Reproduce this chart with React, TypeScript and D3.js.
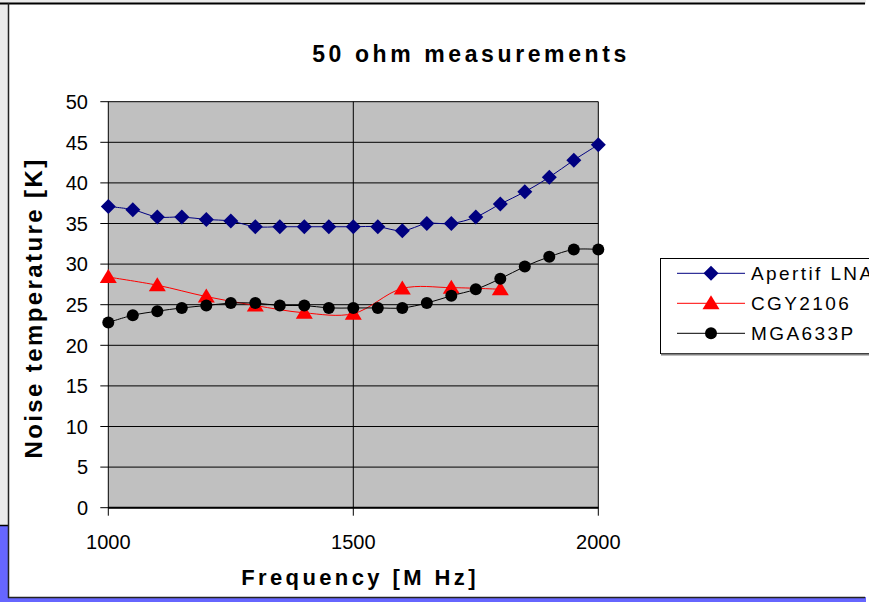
import React from "react";
import * as d3 from "d3";

// Frequency grid (MHz) for the 50 MHz step series
const freqFine = [1000, 1050, 1100, 1150, 1200, 1250, 1300, 1350, 1400, 1450, 1500, 1550, 1600, 1650, 1700, 1750, 1800, 1850, 1900, 1950, 2000];
// Frequency grid (MHz) for the 100 MHz step series
const freqCoarse = [1000, 1100, 1200, 1300, 1400, 1500, 1600, 1700, 1800];

// Noise temperature [K]
const apertifLna = [37.1, 36.7, 35.8, 35.8, 35.5, 35.3, 34.6, 34.6, 34.6, 34.6, 34.6, 34.6, 34.1, 35.0, 35.0, 35.8, 37.4, 38.9, 40.7, 42.8, 44.7];
const cgy2106 = [28.4, 27.4, 26.0, 24.9, 24.0, 23.9, 27.0, 27.1, 26.9];
const mga633p = [22.8, 23.7, 24.2, 24.6, 24.9, 25.2, 25.2, 24.9, 24.9, 24.6, 24.6, 24.6, 24.6, 25.2, 26.1, 26.9, 28.2, 29.7, 30.9, 31.8, 31.8];

const seriesNames = ["Apertif LNA", "CGY2106", "MGA633P"];
const xTicks = [1000, 1500, 2000];
const yTicks = [0, 5, 10, 15, 20, 25, 30, 35, 40, 45, 50];

const W = 869;
const H = 602;
const plot = { left: 108.3, right: 598.3, top: 101.7, bottom: 507.7 };

type Pt = [number, number];

function Marker({ kind, x, y, color }: { kind: string; x: number; y: number; color: string }) {
  if (kind === "diamond") {
    const s = 7.5;
    return <path d={`M${x},${y - s}L${x + s},${y}L${x},${y + s}L${x - s},${y}Z`} fill={color} />;
  }
  if (kind === "triangle") {
    return <path d={`M${x},${y - 8}L${x + 8.5},${y + 6}L${x - 8.5},${y + 6}Z`} fill={color} />;
  }
  return <circle cx={x} cy={y} r={6} fill={color} />;
}

export default function App() {
  const x = d3.scaleLinear().domain([1000, 2000]).range([plot.left, plot.right]);
  const y = d3.scaleLinear().domain([0, 50]).range([plot.bottom, plot.top]);

  const line = d3
    .line<Pt>()
    .x((d) => x(d[0]))
    .y((d) => y(d[1]))
    .curve(d3.curveCatmullRom.alpha(0.5));

  const series = [
    { name: seriesNames[0], color: "#000080", kind: "diamond", pts: freqFine.map((f, i) => [f, apertifLna[i]] as Pt) },
    { name: seriesNames[1], color: "#ff0000", kind: "triangle", pts: freqCoarse.map((f, i) => [f, cgy2106[i]] as Pt) },
    { name: seriesNames[2], color: "#000000", kind: "circle", pts: freqFine.map((f, i) => [f, mga633p[i]] as Pt) },
  ];

  const font = "Arial, 'Liberation Sans', Helvetica, sans-serif";
  const legendY = [273.3, 303.3, 333.3];

  return (
    <div style={{ position: "fixed", left: 0, top: 0, width: W, height: H }}>
      <svg width={W} height={H} style={{ display: "block" }} fontFamily={font}>
        <rect x={0} y={0} width={W} height={H} fill="#ffffff" />
        {/* slide panels behind the chart */}
        <rect x={0} y={0} width={866} height={525} fill="#ebebeb" />
        <rect x={0} y={525} width={866} height={77} fill="#6666ff" />
        <line x1={0} x2={9} y1={525.5} y2={525.5} stroke="#000" strokeWidth={1.5} />
        {/* chart frame */}
        <rect x={9} y={4} width={W} height={593} fill="#ffffff" />
        <line x1={0} x2={865} y1={3.5} y2={3.5} stroke="#000" strokeWidth={2} />
        <line x1={8.5} x2={8.5} y1={3} y2={598} stroke="#222" strokeWidth={1.5} />
        <line x1={8} x2={865} y1={597.5} y2={597.5} stroke="#222" strokeWidth={1.5} />

        <text x={471} y={62} textAnchor="middle" fontSize={23} fontWeight="bold" letterSpacing={3.6}>
          50 ohm measurements
        </text>

        {/* plot area */}
        <rect x={plot.left} y={plot.top} width={plot.right - plot.left} height={plot.bottom - plot.top} fill="#c0c0c0" />
        {yTicks.map((t) => (
          <line key={"g" + t} x1={plot.left - 8} x2={plot.right} y1={y(t)} y2={y(t)} stroke="#000" strokeWidth={1} />
        ))}
        {xTicks.map((t) => (
          <line key={"v" + t} x1={x(t)} x2={x(t)} y1={plot.top} y2={plot.bottom + 8} stroke="#000" strokeWidth={1} />
        ))}
        <line x1={plot.left} x2={plot.right} y1={plot.bottom} y2={plot.bottom} stroke="#000" strokeWidth={2} />

        {yTicks.map((t) => (
          <text key={"yl" + t} x={88} y={y(t)} dy="0.36em" textAnchor="end" fontSize={20}>
            {t}
          </text>
        ))}
        {xTicks.map((t) => (
          <text key={"xl" + t} x={x(t)} y={549} textAnchor="middle" fontSize={20}>
            {t}
          </text>
        ))}

        <text x={360} y={585} textAnchor="middle" fontSize={22} fontWeight="bold" letterSpacing={3.4}>
          Frequency [M Hz]
        </text>
        <text
          transform={`translate(42,308) rotate(-90)`}
          textAnchor="middle"
          fontSize={24}
          fontWeight="bold"
          letterSpacing={2.4}
        >
          Noise temperature [K]
        </text>

        {/* series */}
        {series.map((s) => (
          <g key={s.name}>
            <path d={line(s.pts) || ""} fill="none" stroke={s.color} strokeWidth={1} />
            {s.pts.map((p, i) => (
              <Marker key={i} kind={s.kind} x={x(p[0])} y={y(p[1])} color={s.color} />
            ))}
          </g>
        ))}

        {/* legend */}
        <rect x={660.5} y={258.5} width={230} height={95} fill="#ffffff" stroke="#000" strokeWidth={1} />
        <line x1={661} x2={W} y1={354.5} y2={354.5} stroke="#808080" strokeWidth={2} />
        {series.map((s, i) => (
          <g key={"lg" + s.name}>
            <line x1={677} x2={745} y1={legendY[i]} y2={legendY[i]} stroke={s.color} strokeWidth={1} />
            <Marker kind={s.kind} x={711} y={legendY[i]} color={s.color} />
            <text x={751} y={legendY[i]} dy="0.36em" fontSize={19} letterSpacing={2.4}>
              {s.name}
            </text>
          </g>
        ))}
      </svg>
    </div>
  );
}
